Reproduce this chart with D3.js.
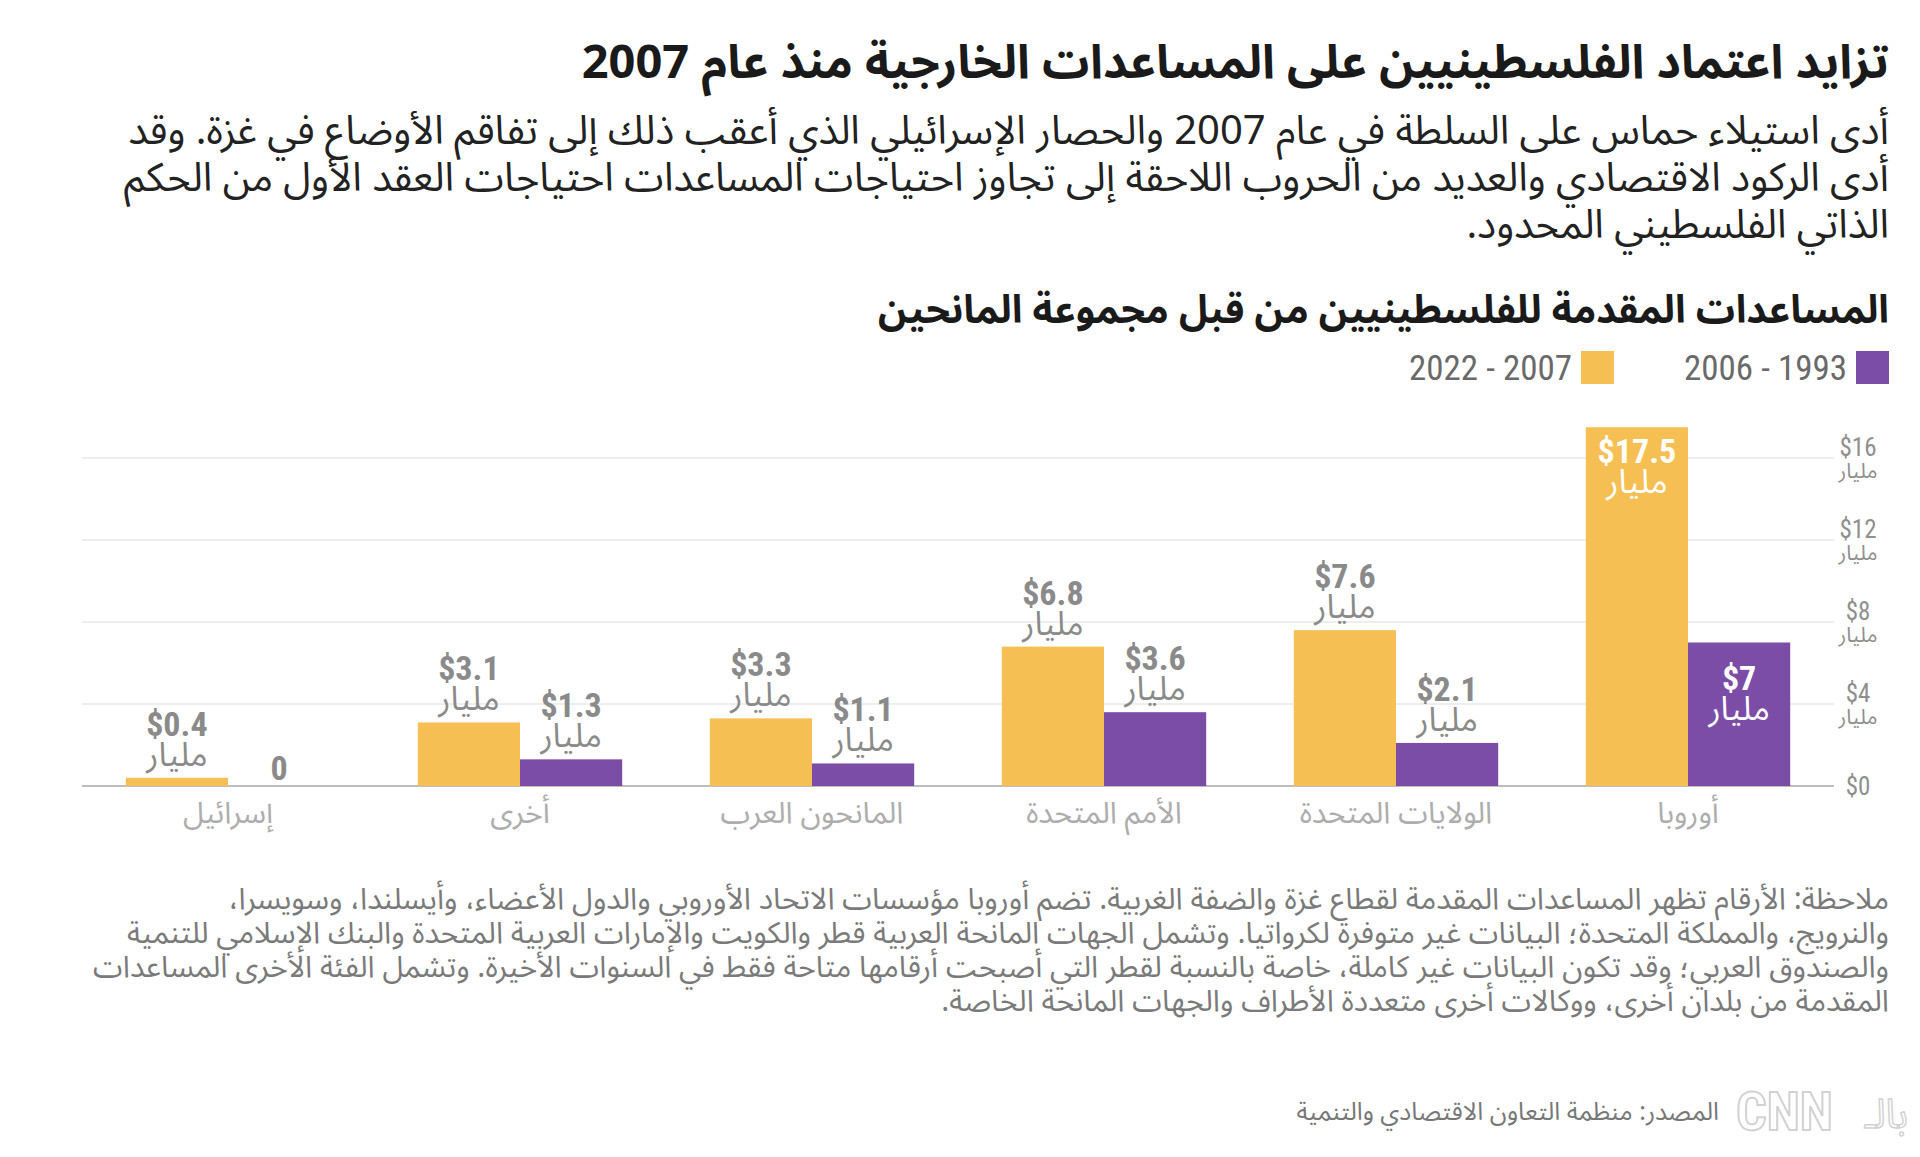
<!DOCTYPE html>
<html lang="ar">
<head>
<meta charset="utf-8">
<script src="https://cdn.jsdelivr.net/npm/d3@7"></script>
<style>
  html, body { margin: 0; padding: 0; background: #fff; }
  svg { display: block; }
  .ar { font-family: "Noto Sans Arabic", "Noto Kufi Arabic", "DejaVu Sans", sans-serif; }
  .num { font-family: "Liberation Sans Narrow", "Roboto Condensed", "Liberation Sans", sans-serif; }
</style>
</head>
<body>
<svg id="chart" width="1920" height="1157"></svg>
<script>
// ---------------- data ----------------
const categories = ["أوروبا", "الولايات المتحدة", "الأمم المتحدة", "المانحون العرب", "أخرى", "إسرائيل"];
const seriesNames = ["1993 - 2006", "2007 - 2022"];
const values1993_2006 = [7, 2.1, 3.6, 1.1, 1.3, 0];
const values2007_2022 = [17.5, 7.6, 6.8, 3.3, 3.1, 0.4];
const yTicks = [0, 4, 8, 12, 16];
const unitLabel = "مليار";
const insideLabelCategories = ["أوروبا"];

const titleText = "تزايد اعتماد الفلسطينيين على المساعدات الخارجية منذ عام 2007";
const subtitleLines = [
  "أدى استيلاء حماس على السلطة في عام 2007 والحصار الإسرائيلي الذي أعقب ذلك إلى تفاقم الأوضاع في غزة. وقد",
  "أدى الركود الاقتصادي والعديد من الحروب اللاحقة إلى تجاوز احتياجات المساعدات احتياجات العقد الأول من الحكم",
  "الذاتي الفلسطيني المحدود."
];
const chartTitle = "المساعدات المقدمة للفلسطينيين من قبل مجموعة المانحين";
const noteLines = [
  "ملاحظة: الأرقام تظهر المساعدات المقدمة لقطاع غزة والضفة الغربية. تضم أوروبا مؤسسات الاتحاد الأوروبي والدول الأعضاء، وأيسلندا، وسويسرا،",
  "والنرويج، والمملكة المتحدة؛ البيانات غير متوفرة لكرواتيا. وتشمل الجهات المانحة العربية قطر والكويت والإمارات العربية المتحدة والبنك الإسلامي للتنمية",
  "والصندوق العربي؛ وقد تكون البيانات غير كاملة، خاصة بالنسبة لقطر التي أصبحت أرقامها متاحة فقط في السنوات الأخيرة. وتشمل الفئة الأخرى المساعدات",
  "المقدمة من بلدان أخرى، ووكالات أخرى متعددة الأطراف والجهات المانحة الخاصة."
];
const sourceText = "المصدر: منظمة التعاون الاقتصادي والتنمية";

// ---------------- styling ----------------
const colors = { "1993 - 2006": "#7C4DA6", "2007 - 2022": "#F6BF53" };
const insideOffsets = { "1993 - 2006": 47, "2007 - 2022": 36 };
const rightEdge = 1889;

const svg = d3.select("#chart");

const table = categories.map((c, i) => ({
  category: c,
  vals: [
    { series: seriesNames[0], value: values1993_2006[i] },
    { series: seriesNames[1], value: values2007_2022[i] }
  ]
}));

// multi-line right-to-left block as one text element
function rtlBlock(x, y0, lines, lineH, size, weight, fill) {
  const t = svg.append("text")
    .attr("class", "ar")
    .attr("direction", "rtl")
    .attr("text-anchor", "start")
    .style("font-size", size + "px")
    .style("font-weight", weight)
    .attr("fill", fill);
  lines.forEach((l, i) => {
    t.append("tspan").attr("x", x).attr("y", y0 + i * lineH).text(l);
  });
  return t;
}

// ---------------- header ----------------
rtlBlock(rightEdge, 78, [titleText], 0, 47, 700, "#1a1a1a");
rtlBlock(rightEdge, 144, subtitleLines, 47, 40, 400, "#222");
rtlBlock(rightEdge, 323, [chartTitle], 0, 39, 700, "#1a1a1a");

// legend
const legend = svg.append("g");
const legendItems = [
  { name: seriesNames[0], xr: 1889 },
  { name: seriesNames[1], xr: 1614 }
];
legendItems.forEach(d => {
  legend.append("rect").attr("x", d.xr - 33).attr("y", 351).attr("width", 33).attr("height", 33)
    .attr("fill", colors[d.name]);
  legend.append("text").attr("class", "num")
    .attr("x", d.xr - 42).attr("y", 380)
    .attr("direction", "rtl").attr("text-anchor", "start")
    .style("font-size", "35px").attr("fill", "#6a6a6a")
    .text(d.name);
});

// ---------------- chart ----------------
const x0 = d3.scaleBand().domain(categories).range([1834, 82]).paddingInner(0.3).paddingOuter(0.15);
const x1 = d3.scaleBand().domain(seriesNames).range([x0.bandwidth(), 0]);
const y = d3.scaleLinear().domain([0, 16]).range([786, 458]);

svg.append("g").selectAll("line").data(yTicks).join("line")
  .attr("x1", 82).attr("x2", 1834)
  .attr("y1", d => y(d)).attr("y2", d => y(d))
  .attr("stroke", d => d === 0 ? "#bdbdbd" : "#e8e8e8")
  .attr("stroke-width", d => d === 0 ? 2 : 1.5);

// y tick labels
const tl = svg.append("g");
yTicks.forEach(t => {
  const txt = tl.append("text").attr("x", 1858).attr("text-anchor", "middle").attr("fill", "#8f8f8f");
  txt.append("tspan").attr("class", "num").attr("x", 1858)
    .attr("y", t === 0 ? y(t) + 9 : y(t) - 2).style("font-size", "25px").text("$" + t);
  if (t !== 0) {
    txt.append("tspan").attr("class", "ar").attr("x", 1858).attr("y", y(t) + 20)
      .style("font-size", "21px").text(unitLabel);
  }
});

const groups = svg.append("g").selectAll("g").data(table).join("g")
  .attr("transform", d => `translate(${x0(d.category)},0)`);

groups.selectAll("rect").data(d => d.vals).join("rect")
  .attr("x", d => x1(d.series))
  .attr("width", x1.bandwidth())
  .attr("y", d => y(d.value))
  .attr("height", d => y(0) - y(d.value))
  .attr("fill", d => colors[d.series]);

// value labels
groups.each(function(g) {
  const inside = insideLabelCategories.includes(g.category);
  const sel = d3.select(this);
  g.vals.forEach(v => {
    const cx = x1(v.series) + x1.bandwidth() / 2;
    const top = y(v.value);
    const txt = sel.append("text").attr("text-anchor", "middle");
    if (v.value === 0) {
      txt.attr("class", "num").attr("x", cx).attr("y", top - 6)
        .style("font-size", "34px").style("font-weight", 700)
        .attr("fill", "#8a8a8a").text("0");
      return;
    }
    const fill = inside ? "#ffffff" : "#8a8a8a";
    const nb = inside ? top + insideOffsets[v.series] : top - 42;
    txt.attr("fill", fill);
    txt.append("tspan").attr("class", "num").attr("x", cx).attr("y", nb)
      .style("font-size", "34px").style("font-weight", 700).text("$" + v.value);
    txt.append("tspan").attr("class", "ar").attr("x", cx).attr("y", nb + 30)
      .style("font-size", "33px").text(unitLabel);
  });
});

// x axis labels
svg.append("g").selectAll("text").data(categories).join("text")
  .attr("class", "ar")
  .attr("x", d => x0(d) + x0.bandwidth() / 2)
  .attr("y", 823)
  .attr("text-anchor", "middle")
  .style("font-size", "30px")
  .attr("fill", "#adadad")
  .text(d => d);

// ---------------- notes ----------------
rtlBlock(rightEdge, 909, noteLines, 34, 30, 400, "#7a7a7a");
rtlBlock(1719, 1120, [sourceText], 0, 25, 400, "#777");

// logo
const logo = svg.append("g");
logo.append("text").attr("class", "num").attr("x", 1736).attr("y", 1130)
  .style("font-size", "54px").style("font-weight", 700)
  .attr("fill", "none").attr("stroke", "#d2d2d2").attr("stroke-width", 2).text("CNN");
logo.append("text").attr("class", "ar").attr("x", 1908).attr("y", 1128)
  .attr("direction", "rtl").attr("text-anchor", "start")
  .style("font-size", "40px").attr("fill", "none").attr("stroke", "#d2d2d2").attr("stroke-width", 1.5)
  .text("بالـ");
</script>
</body>
</html>
